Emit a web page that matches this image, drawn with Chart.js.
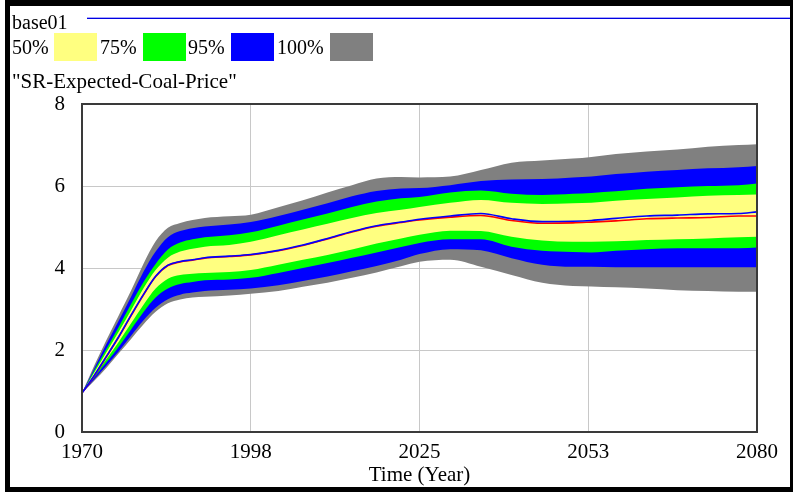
<!DOCTYPE html>
<html>
<head>
<meta charset="utf-8">
<script src="https://cdn.jsdelivr.net/npm/chart.js@4/dist/chart.umd.min.js"></script>
<style>
  html, body { margin: 0; padding: 0; background: #fff; }
  #wrap { position: relative; width: 793px; height: 492px; overflow: hidden; background: #fff;
          font-family: "Liberation Serif", "Times New Roman", serif; color: #000; }
  #chart { position: absolute; left: 0; top: 0; }
  .t { position: absolute; font-size: 20px; line-height: 20px; white-space: nowrap; }
  .sw { position: absolute; top: 33px; width: 43px; height: 28px; }
  #baseLine { position: absolute; left: 87px; top: 18px; width: 703px; height: 1px;
              background: #0000e0; box-shadow: 0 -1px 0 #a8a8ff; }
  #frame { position: absolute; left: 5px; top: 0; right: 0; bottom: 0;
           border-left: 5px solid #000; border-top: 6px solid #000;
           border-right: 3px solid #000; border-bottom: 5px solid #000; pointer-events: none; }
</style>
</head>
<body>
<div id="wrap">
  <canvas id="chart" width="793" height="492"></canvas>
  <div class="t" style="left:12px; top:12px;">base01</div>
  <div id="baseLine"></div>
  <div class="t" style="left:12px; top:37px;">50%</div>
  <div class="sw" style="left:54px; background:#ffff80;"></div>
  <div class="t" style="left:100px; top:37px;">75%</div>
  <div class="sw" style="left:143px; background:#00ff00;"></div>
  <div class="t" style="left:188px; top:37px;">95%</div>
  <div class="sw" style="left:231px; background:#0000ff;"></div>
  <div class="t" style="left:277px; top:37px;">100%</div>
  <div class="sw" style="left:330px; background:#808080;"></div>
  <div class="t" style="left:12px; top:71px; font-size:21px;">"SR-Expected-Coal-Price"</div>
  <div id="frame"></div>
</div>
<script>
// Simulation time points (years)
const years = [1970, 1972, 1974, 1976, 1978, 1980, 1982, 1984, 1986, 1988, 1990, 1994, 1997.5,
               2002, 2006, 2010, 2014, 2018, 2022, 2025, 2030, 2035, 2040, 2045, 2050, 2053,
               2057, 2062, 2067, 2072, 2077, 2080];

// Base run and its companion trace
const base01 = [0.95, 1.38, 1.85, 2.33, 2.85, 3.35, 3.80, 4.07, 4.16, 4.20, 4.25, 4.29, 4.33,
                4.43, 4.56, 4.72, 4.89, 5.03, 5.12, 5.19, 5.27, 5.33, 5.20, 5.13, 5.14, 5.16,
                5.21, 5.27, 5.29, 5.32, 5.33, 5.37];
const median = [0.95, 1.37, 1.84, 2.32, 2.84, 3.34, 3.79, 4.06, 4.15, 4.19, 4.24, 4.28, 4.32,
                4.42, 4.55, 4.71, 4.88, 5.02, 5.11, 5.17, 5.24, 5.28, 5.16, 5.09, 5.10, 5.12,
                5.15, 5.20, 5.22, 5.23, 5.27, 5.27];

// Confidence bounds (upper / lower) for each band
const band50Hi = [0.95, 1.45, 1.95, 2.45, 2.97, 3.50, 3.95, 4.25, 4.40, 4.47, 4.52, 4.56, 4.64,
                  4.80, 4.94, 5.08, 5.22, 5.34, 5.42, 5.49, 5.59, 5.66, 5.59, 5.56, 5.58, 5.59,
                  5.64, 5.68, 5.72, 5.76, 5.78, 5.79];
const band50Lo = [0.95, 1.37, 1.78, 2.20, 2.65, 3.10, 3.50, 3.74, 3.83, 3.86, 3.88, 3.90, 3.95,
                  4.08, 4.20, 4.32, 4.45, 4.60, 4.72, 4.81, 4.91, 4.90, 4.76, 4.67, 4.64, 4.64,
                  4.65, 4.68, 4.70, 4.72, 4.75, 4.76];
const band75Hi = [0.95, 1.50, 2.03, 2.57, 3.12, 3.65, 4.10, 4.45, 4.62, 4.70, 4.75, 4.80, 4.87,
                  5.03, 5.18, 5.33, 5.49, 5.62, 5.70, 5.73, 5.84, 5.89, 5.81, 5.78, 5.81, 5.83,
                  5.87, 5.93, 5.97, 6.00, 6.02, 6.06];
const band75Lo = [0.95, 1.33, 1.70, 2.08, 2.50, 2.92, 3.28, 3.50, 3.61, 3.66, 3.70, 3.72, 3.76,
                  3.88, 4.00, 4.12, 4.25, 4.38, 4.51, 4.61, 4.70, 4.70, 4.52, 4.42, 4.39, 4.38,
                  4.42, 4.46, 4.48, 4.48, 4.48, 4.50];
const band95Hi = [0.95, 1.55, 2.15, 2.72, 3.30, 3.90, 4.40, 4.75, 4.90, 4.97, 5.01, 5.06, 5.12,
                  5.27, 5.42, 5.58, 5.75, 5.88, 5.94, 5.95, 6.02, 6.12, 6.16, 6.17, 6.21, 6.23,
                  6.29, 6.35, 6.39, 6.43, 6.46, 6.49];
const band95Lo = [0.95, 1.28, 1.62, 1.97, 2.35, 2.72, 3.03, 3.24, 3.35, 3.40, 3.44, 3.47, 3.50,
                  3.58, 3.68, 3.79, 3.92, 4.05, 4.20, 4.34, 4.46, 4.43, 4.24, 4.08, 4.03, 4.03,
                  4.02, 4.02, 4.02, 4.02, 4.02, 4.02];
const band100Hi = [0.95, 1.62, 2.25, 2.85, 3.45, 4.10, 4.65, 4.98, 5.10, 5.17, 5.22, 5.26, 5.30,
                   5.48, 5.65, 5.84, 6.02, 6.18, 6.22, 6.21, 6.23, 6.39, 6.57, 6.62, 6.67, 6.71,
                   6.78, 6.84, 6.89, 6.96, 7.00, 7.02];
const band100Lo = [0.95, 1.25, 1.57, 1.92, 2.27, 2.62, 2.93, 3.14, 3.23, 3.28, 3.30, 3.33, 3.37,
                   3.44, 3.54, 3.64, 3.76, 3.89, 4.04, 4.15, 4.20, 4.03, 3.83, 3.64, 3.56, 3.55,
                   3.53, 3.50, 3.46, 3.44, 3.42, 3.42];

// Axis ticks
const xTickValues = [1970, 1997.5, 2025, 2052.5, 2080];
const xTickLabels = ["1970", "1998", "2025", "2053", "2080"];
const yTickValues = [0, 2, 4, 6, 8];

const pts = arr => years.map((y, i) => ({ x: y, y: arr[i] }));

function boundary(arr, color, fillNext) {
  return {
    data: pts(arr),
    borderWidth: 0,
    borderColor: color,
    backgroundColor: color,
    pointRadius: 0,
    fill: fillNext ? '+1' : false,
    cubicInterpolationMode: 'monotone'
  };
}

function trace(arr, color) {
  return {
    data: pts(arr),
    borderWidth: 1.6,
    borderColor: color,
    pointRadius: 0,
    fill: false,
    cubicInterpolationMode: 'monotone'
  };
}

// Earlier datasets are painted on top of later ones
const datasets = [
  trace(base01, '#0000ff'),
  trace(median, '#ff0000'),
  boundary(band50Hi, '#ffff80', true),
  boundary(band50Lo, '#ffff80', false),
  boundary(band75Hi, '#00ff00', true),
  boundary(band75Lo, '#00ff00', false),
  boundary(band95Hi, '#0000ff', true),
  boundary(band95Lo, '#0000ff', false),
  boundary(band100Hi, '#808080', true),
  boundary(band100Lo, '#808080', false)
];

// Dark frame around the plotting area
const plotFrame = {
  id: 'plotFrame',
  afterDraw(chart) {
    const { ctx, chartArea: a } = chart;
    ctx.save();
    ctx.strokeStyle = '#3a3a3a';
    ctx.lineWidth = 2;
    ctx.strokeRect(a.left, a.top, a.right - a.left, a.bottom - a.top);
    ctx.restore();
  }
};

Chart.defaults.font.family = '"Liberation Serif", "Times New Roman", serif';
Chart.defaults.font.size = 21;
Chart.defaults.color = '#000';

new Chart(document.getElementById('chart'), {
  type: 'line',
  data: { datasets },
  options: {
    responsive: false,
    animation: false,
    devicePixelRatio: 1,
    layout: { padding: { top: 104, right: 36, left: 0, bottom: 0 } },
    plugins: { legend: { display: false }, tooltip: { enabled: false } },
    scales: {
      x: {
        type: 'linear',
        min: 1970,
        max: 2080,
        z: 1,
        afterFit(scale) { scale.height = 60; },
        afterBuildTicks(scale) { scale.ticks = xTickValues.map(v => ({ value: v })); },
        ticks: {
          padding: 8,
          maxRotation: 0,
          autoSkip: false,
          callback: (v) => xTickLabels[xTickValues.indexOf(v)] ?? String(Math.round(v))
        },
        grid: { color: '#c8c8c8', lineWidth: 1, drawTicks: false },
        border: { display: false },
        title: { display: true, text: 'Time (Year)', padding: { top: 0, bottom: 4 } }
      },
      y: {
        min: 0,
        max: 8,
        z: 1,
        afterFit(scale) { scale.width = 82; },
        afterBuildTicks(scale) { scale.ticks = yTickValues.map(v => ({ value: v })); },
        ticks: { padding: 17 },
        grid: { color: '#c8c8c8', lineWidth: 1, drawTicks: false },
        border: { display: false }
      }
    }
  },
  plugins: [plotFrame]
});
</script>
</body>
</html>
